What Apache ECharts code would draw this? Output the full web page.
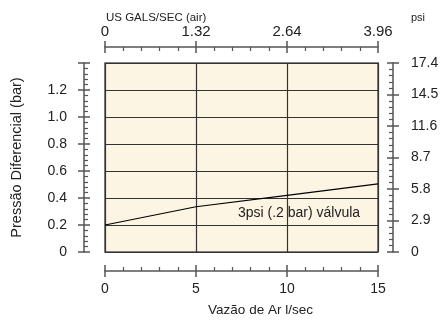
<!DOCTYPE html>
<html>
<head>
<meta charset="utf-8">
<script src="https://cdn.jsdelivr.net/npm/echarts@6/dist/echarts.min.js"></script>
<style>
  html, body { margin: 0; padding: 0; background: #fff; }
  #chart { width: 443px; height: 322px; }
</style>
</head>
<body>
<div id="chart"></div>
<script>
// flow l/sec vs pressure drop (bar)
const flowLs = [0, 5, 10, 15];
const pressureBar = [0.2, 0.335, 0.42, 0.505];
const valveLabel = '3psi (.2 bar) válvula';

// axis scales
const barMax = 1.4, barStep = 0.2;
const psiMax = 17.4, psiStep = 2.9;
const galMax = 3.96, galStep = 1.32;
const flowMax = 15, flowStep = 5;

const font = "'Liberation Sans', Arial, sans-serif";
const axisColor = '#555';
const textColor = '#222';

function fmt(digits){
    return v => v === 0 ? '0' : v.toFixed(digits);
}

// an axis carrying line, labels and inward ticks (major + minor)
function mainAxis(extra){
    return Object.assign({
        type: 'value',
        axisLine: { show: true, onZero: false, lineStyle: { color: axisColor, width: 1.5 } },
        axisTick: { show: true, inside: true, length: 6, lineStyle: { color: axisColor, width: 1.5 } },
        minorTick: { show: true, splitNumber: 5, length: 4, lineStyle: { color: axisColor, width: 1.2 } },
        axisLabel: { color: textColor, fontSize: 14, fontFamily: font },
        splitLine: { show: false },
        nameTextStyle: { color: textColor, fontSize: 13, fontFamily: font }
    }, extra);
}
// twin axis that only draws the outward half of the major ticks
function tickAxis(extra){
    return Object.assign({
        type: 'value',
        axisLine: { show: false, onZero: false },
        axisTick: { show: true, inside: false, length: 6, lineStyle: { color: axisColor, width: 1.5 } },
        axisLabel: { show: false },
        splitLine: { show: false }
    }, extra);
}

const chart = echarts.init(document.getElementById('chart'), null, { renderer: 'canvas' });

let option = {
    animation: false,
    title: [
        { text: 'US GALS/SEC (air)', left: 106, top: 12, padding: 0,
          textStyle: { fontSize: 11.5, fontWeight: 'normal', color: textColor, fontFamily: font } },
        { text: 'psi', left: 411, top: 12, padding: 0,
          textStyle: { fontSize: 11, fontWeight: 'normal', color: textColor, fontFamily: font } }
    ],
    grid: {
        left: 105, right: 65, top: 63, bottom: 68,
        show: true,
        backgroundColor: '#fdf5e4',
        borderColor: axisColor,
        borderWidth: 1.5
    },
    xAxis: [
        mainAxis({
            position: 'bottom', offset: 19,
            min: 0, max: flowMax, interval: flowStep,
            name: 'Vazão de Ar l/sec', nameLocation: 'middle', nameGap: 32,
            nameTextStyle: { color: textColor, fontSize: 13.5, fontFamily: font, padding: [0, 0, 0, 38] },
            axisLabel: { color: textColor, fontSize: 14, fontFamily: font, margin: 11 },
            splitLine: { show: true, lineStyle: { color: '#333', width: 1.2 } }
        }),
        tickAxis({ position: 'bottom', offset: 19, min: 0, max: flowMax, interval: flowStep }),
        mainAxis({
            position: 'top', offset: 16,
            min: 0, max: galMax, interval: galStep,
            axisLabel: { color: textColor, fontSize: 15, fontFamily: font, margin: 8, formatter: fmt(2) }
        }),
        tickAxis({ position: 'top', offset: 16, min: 0, max: galMax, interval: galStep })
    ],
    yAxis: [
        mainAxis({
            position: 'left', offset: 21,
            min: 0, max: barMax, interval: barStep,
            name: 'Pressão Diferencial (bar)', nameLocation: 'middle', nameGap: 60,
            nameTextStyle: { color: textColor, fontSize: 14.5, fontFamily: font },
            axisLabel: { color: textColor, fontSize: 14, fontFamily: font, margin: 17,
                formatter: v => v >= barMax - 1e-9 ? '' : fmt(1)(v) },
            splitLine: { show: true, lineStyle: { color: '#333', width: 1.2 } }
        }),
        tickAxis({ position: 'left', offset: 21, min: 0, max: barMax, interval: barStep }),
        mainAxis({
            position: 'right', offset: 15,
            min: 0, max: psiMax, interval: psiStep,
            axisLabel: { color: textColor, fontSize: 14, fontFamily: font, margin: 18, formatter: fmt(1) }
        }),
        tickAxis({ position: 'right', offset: 15, min: 0, max: psiMax, interval: psiStep })
    ],
    series: [{
        type: 'line',
        xAxisIndex: 0,
        yAxisIndex: 0,
        symbol: 'circle',
        symbolSize: 0,
        showSymbol: true,
        lineStyle: { color: '#000', width: 1.2 },
        itemStyle: { color: '#000' },
        data: flowLs.map((x, i) => {
            let item = { value: [x, pressureBar[i]] };
            if (i === 2) {
                item.label = {
                    show: true, position: 'bottom', distance: 5, offset: [12, 6],
                    formatter: valveLabel,
                    color: textColor, fontSize: 14, fontFamily: font
                };
            }
            return item;
        })
    }]
};

chart.setOption(option);
</script>
</body>
</html>
